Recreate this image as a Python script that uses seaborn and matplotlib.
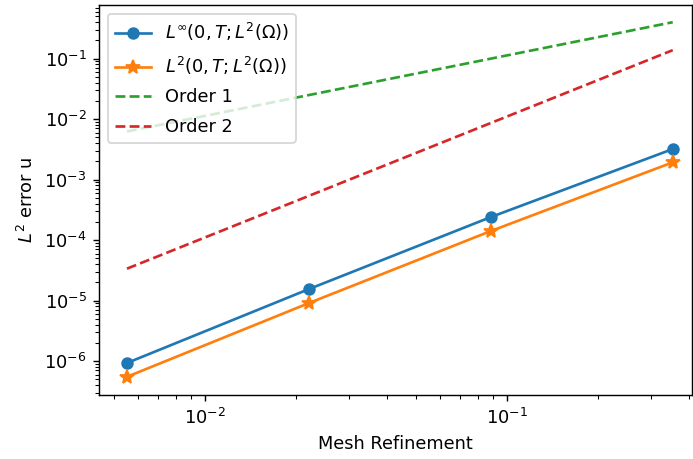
import matplotlib
matplotlib.use("Agg")
import matplotlib.pyplot as plt
import seaborn as sns

# mesh sizes (h) and errors
mesh_h = [0.00552, 0.0221, 0.0884, 0.354]
err_linf = [9.3e-7, 1.55e-5, 2.4e-4, 3.2e-3]
err_l2 = [5.5e-7, 9.1e-6, 1.41e-4, 1.93e-3]
order1 = [0.00624, 0.025, 0.0999, 0.40]
order2 = [3.37e-5, 5.39e-4, 8.62e-3, 0.138]

dpi = 128
fig = plt.figure(figsize=(693 / dpi, 459 / dpi), dpi=dpi)
ax = fig.add_axes([99 / 693, 1 - 395 / 459, 593 / 693, 390 / 459])

sns.lineplot(x=mesh_h, y=err_linf, marker='o', color='C0', mec='C0', mew=1,
             label=r'$L^\infty(0,T;L^2(\Omega))$', ax=ax)
sns.lineplot(x=mesh_h, y=err_l2, marker='*', color='C1', mec='C1', mew=1, markersize=8,
             label=r'$L^2(0,T;L^2(\Omega))$', ax=ax)
sns.lineplot(x=mesh_h, y=order1, linestyle='--', color='C2', label='Order 1', ax=ax)
sns.lineplot(x=mesh_h, y=order2, linestyle='--', color='C3', label='Order 2', ax=ax)

ax.set_xscale('log')
ax.set_yscale('log')
ax.set_xlim(0.00446, 0.41)
ax.set_ylim(2.75e-7, 0.77)
ax.set_xlabel('Mesh Refinement')
ax.set_ylabel(r'$L^2$ error u')
ax.legend(loc='upper left', labelspacing=0.65)

fig.savefig('out.png', dpi=dpi)
